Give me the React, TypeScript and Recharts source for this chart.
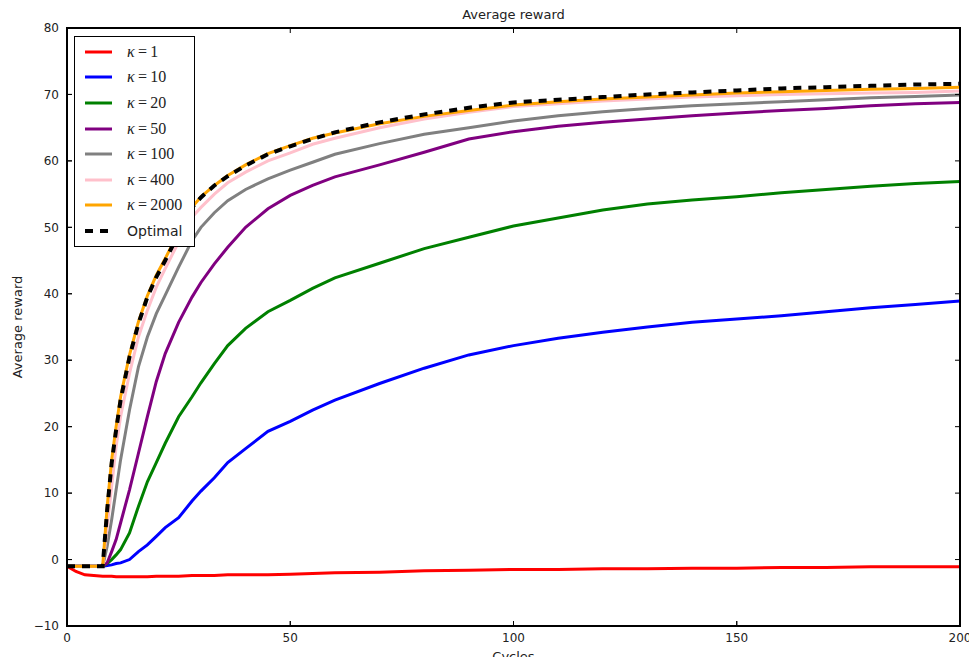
import { LineChart, Line, XAxis, YAxis, Legend } from "recharts";

const CYCLES = [0, 2, 4, 6, 8, 9, 10, 11, 12, 14, 16, 18, 20, 22, 25, 28, 30, 33, 36, 40, 45, 50, 55, 60, 70, 80, 90, 100, 110, 120, 130, 140, 150, 160, 170, 180, 190, 200];

const KAPPA_1 = [-1, -1.8, -2.3, -2.4, -2.5, -2.5, -2.5, -2.6, -2.6, -2.6, -2.6, -2.6, -2.5, -2.5, -2.5, -2.4, -2.4, -2.4, -2.3, -2.3, -2.3, -2.2, -2.1, -2.0, -1.9, -1.7, -1.6, -1.5, -1.5, -1.4, -1.4, -1.3, -1.3, -1.2, -1.2, -1.1, -1.1, -1.1];
const KAPPA_10 = [-1, -1, -1, -1, -1, -0.9, -0.8, -0.6, -0.5, 0, 1.2, 2.2, 3.5, 4.8, 6.3, 8.8, 10.3, 12.3, 14.6, 16.7, 19.3, 20.8, 22.5, 24, 26.5, 28.8, 30.8, 32.2, 33.3, 34.2, 35, 35.7, 36.2, 36.7, 37.3, 37.9, 38.4, 38.9];
const KAPPA_20 = [-1, -1, -1, -1, -1, -0.6, 0, 0.7, 1.5, 4, 8, 11.7, 14.6, 17.5, 21.5, 24.5, 26.6, 29.5, 32.2, 34.8, 37.3, 39, 40.8, 42.4, 44.6, 46.8, 48.5, 50.2, 51.4, 52.6, 53.5, 54.1, 54.6, 55.2, 55.7, 56.2, 56.6, 56.9];
const KAPPA_50 = [-1, -1, -1, -1, -1, -0.5, 1.2, 3, 5.5, 10.5, 16, 21.5, 26.8, 31, 35.7, 39.5, 41.7, 44.5, 47, 50, 52.8, 54.8, 56.3, 57.6, 59.4, 61.3, 63.3, 64.4, 65.2, 65.8, 66.3, 66.8, 67.2, 67.6, 67.9, 68.3, 68.6, 68.8];
const KAPPA_100 = [-1, -1, -1, -1, -1, 2, 6, 10.5, 15, 22.5, 29, 33.5, 37, 39.8, 44, 48, 50, 52.2, 54, 55.7, 57.3, 58.6, 59.8, 61, 62.6, 64, 65, 66, 66.8, 67.4, 67.9, 68.3, 68.6, 68.9, 69.2, 69.5, 69.7, 69.9];
const KAPPA_400 = [-1, -1, -1, -1, -1, 5, 11, 17, 21.5, 28, 33.5, 37.5, 41, 43.8, 47.8, 51.5, 53, 55, 56.7, 58.3, 60, 61.2, 62.5, 63.4, 65, 66.3, 67.3, 68.2, 68.6, 69, 69.3, 69.6, 69.8, 70, 70.1, 70.2, 70.3, 70.5];
const KAPPA_2000 = [-1, -1, -1, -1, -1, 8, 15, 20, 24.5, 30.8, 35.8, 39.7, 42.8, 45.3, 49.3, 53, 54.6, 56.3, 57.8, 59.4, 61.1, 62.3, 63.4, 64.2, 65.6, 66.7, 67.6, 68.4, 68.9, 69.3, 69.6, 69.9, 70.2, 70.4, 70.6, 70.8, 70.9, 71.1];
const OPTIMAL = [-1, -1, -1, -1, -1, 7.5, 14.5, 19.5, 24, 30.5, 35.5, 39.5, 42.5, 45, 49, 53, 54.5, 56.3, 57.7, 59.3, 61, 62.2, 63.3, 64.3, 65.8, 67, 68, 68.8, 69.2, 69.6, 70, 70.3, 70.6, 70.9, 71.1, 71.3, 71.5, 71.6];

const X_TICKS = [0, 50, 100, 150, 200];
const Y_TICKS = [-10, 0, 10, 20, 30, 40, 50, 60, 70, 80];
const X_DOMAIN = [0, 200];
const Y_DOMAIN = [-10, 80];

const SERIES = [
  { key: "k1", kappa: "1", color: "#ff0000", values: KAPPA_1 },
  { key: "k10", kappa: "10", color: "#0000ff", values: KAPPA_10 },
  { key: "k20", kappa: "20", color: "#008000", values: KAPPA_20 },
  { key: "k50", kappa: "50", color: "#800080", values: KAPPA_50 },
  { key: "k100", kappa: "100", color: "#808080", values: KAPPA_100 },
  { key: "k400", kappa: "400", color: "#ffc0cb", values: KAPPA_400 },
  { key: "k2000", kappa: "2000", color: "#ffa500", values: KAPPA_2000 },
];

const data = CYCLES.map((cycle, i) => {
  const row: Record<string, number> = { cycle, optimal: OPTIMAL[i] };
  SERIES.forEach((s) => (row[s.key] = s.values[i]));
  return row;
});

const W = 977;
const H = 665;
const MARGIN = { top: 28, right: 17, bottom: 9, left: 0 };
const Y_AXIS_W = 67;
const X_AXIS_H = 30;
const PLOT = {
  left: MARGIN.left + Y_AXIS_W,
  top: MARGIN.top,
  width: W - MARGIN.left - Y_AXIS_W - MARGIN.right,
  height: H - MARGIN.top - MARGIN.bottom - X_AXIS_H,
};

const FONT = "'DejaVu Sans', sans-serif";
const TICK = { fontSize: 12, fill: "#222", fontFamily: FONT };
const minus = (v: number) => String(v).replace("-", "\u2212");

// matplotlib-style box with inward ticks on all four sides, laid over the plot area
function Frame() {
  const fx = (t: number) => ((t - X_DOMAIN[0]) / (X_DOMAIN[1] - X_DOMAIN[0])) * PLOT.width;
  const fy = (t: number) => PLOT.height - ((t - Y_DOMAIN[0]) / (Y_DOMAIN[1] - Y_DOMAIN[0])) * PLOT.height;
  return (
    <div
      style={{
        position: "absolute",
        left: PLOT.left - 1,
        top: PLOT.top - 1,
        width: PLOT.width + 2,
        height: PLOT.height + 2,
        border: "2px solid #000",
        boxSizing: "border-box",
        pointerEvents: "none",
        zIndex: 10,
      }}
    >
      <svg
        width={PLOT.width}
        height={PLOT.height}
        style={{ position: "absolute", left: -1, top: -1, overflow: "visible" }}
      >
        {X_TICKS.map((t) => (
          <g key={`x${t}`} stroke="#000">
            <line x1={fx(t)} x2={fx(t)} y1={0} y2={5} />
            <line x1={fx(t)} x2={fx(t)} y1={PLOT.height} y2={PLOT.height - 5} />
          </g>
        ))}
        {Y_TICKS.map((t) => (
          <g key={`y${t}`} stroke="#000">
            <line x1={0} x2={5} y1={fy(t)} y2={fy(t)} />
            <line x1={PLOT.width} x2={PLOT.width - 5} y1={fy(t)} y2={fy(t)} />
          </g>
        ))}
      </svg>
    </div>
  );
}

function KappaLegend() {
  const rowStyle = { display: "flex", alignItems: "center", height: 25.6 };
  return (
    <div
      style={{
        border: "1px solid #000",
        background: "#fff",
        width: 121,
        padding: "2px 0",
        boxSizing: "border-box",
      }}
    >
      {SERIES.map((s) => (
        <div key={s.key} style={rowStyle}>
          <svg width={46} height={8}>
            <line x1={10} x2={37} y1={4} y2={4} stroke={s.color} strokeWidth={3} />
          </svg>
          <span style={{ fontFamily: "'Liberation Serif', serif", fontSize: 16, marginLeft: 6, color: "#222" }}>
            <i>κ</i>
            {"\u2009=\u2009"}
            {s.kappa}
          </span>
        </div>
      ))}
      <div style={rowStyle}>
        <svg width={46} height={8}>
          <line x1={10} x2={37} y1={4} y2={4} stroke="#000" strokeWidth={4} strokeDasharray="8 7" />
        </svg>
        <span style={{ fontFamily: FONT, fontSize: 14, marginLeft: 6, color: "#222" }}>Optimal</span>
      </div>
    </div>
  );
}

export default function App() {
  return (
    <div style={{ position: "relative", margin: -8, width: W, height: H, background: "#fff" }}>
      <LineChart width={W} height={H} data={data} margin={MARGIN}>
        <XAxis
          dataKey="cycle"
          type="number"
          domain={X_DOMAIN}
          ticks={X_TICKS}
          tick={TICK}
          tickSize={-5}
          tickMargin={12}
          height={X_AXIS_H}
          axisLine={{ stroke: "#000", strokeWidth: 1.5 }}
          tickLine={{ stroke: "#000" }}
        />
        <YAxis
          type="number"
          domain={Y_DOMAIN}
          ticks={Y_TICKS}
          tick={TICK}
          tickFormatter={minus}
          tickSize={-5}
          tickMargin={13}
          width={Y_AXIS_W}
          allowDataOverflow
          axisLine={{ stroke: "#000", strokeWidth: 1.5 }}
          tickLine={{ stroke: "#000" }}
        />
        <Legend
          layout="vertical"
          align="center"
          verticalAlign="middle"
          content={() => <KappaLegend />}
          wrapperStyle={{ left: 74, top: 36, width: 122, zIndex: 3 }}
        />
        {SERIES.map((s) => (
          <Line
            key={s.key}
            type="linear"
            dataKey={s.key}
            stroke={s.color}
            strokeWidth={3}
            dot={false}
            activeDot={false}
            isAnimationActive={false}
          />
        ))}
        <Line
          type="linear"
          dataKey="optimal"
          stroke="#000"
          strokeWidth={4}
          strokeDasharray="8 7"
          dot={false}
          activeDot={false}
          isAnimationActive={false}
        />
      </LineChart>
      <Frame />
      <div
        style={{
          position: "absolute",
          top: 7,
          left: PLOT.left,
          width: PLOT.width,
          textAlign: "center",
          fontFamily: FONT,
          fontSize: 13,
          color: "#222",
        }}
      >
        Average reward
      </div>
      <div
        style={{
          position: "absolute",
          left: 17,
          top: 327,
          transform: "translate(-50%, -50%) rotate(-90deg)",
          whiteSpace: "nowrap",
          fontFamily: FONT,
          fontSize: 13,
          color: "#222",
        }}
      >
        Average reward
      </div>
      <div
        style={{
          position: "absolute",
          top: 649,
          left: PLOT.left,
          width: PLOT.width,
          textAlign: "center",
          fontFamily: FONT,
          fontSize: 13,
          color: "#222",
        }}
      >
        Cycles
      </div>
    </div>
  );
}
